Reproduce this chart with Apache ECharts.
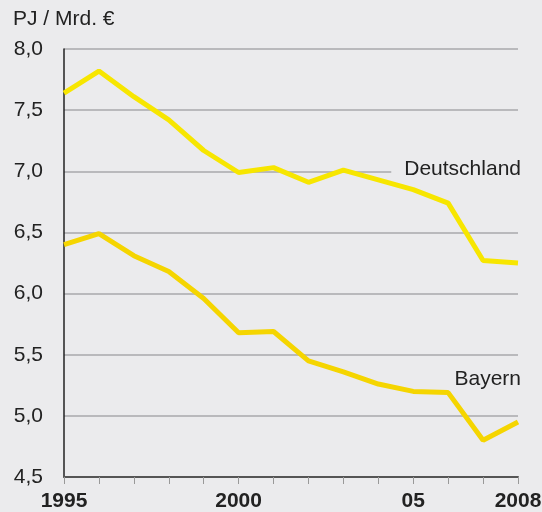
<!DOCTYPE html>
<html lang="de">
  <head>
    <meta charset="UTF-8" />
    <title>Energieintensität</title>
    <style>
      * {
        margin: 0;
        padding: 0;
      }
      body {
        background: #ebebed;
      }
    </style>
  </head>
  <body>
    <div id="main" style="width: 542px; height: 512px"></div>
    <script src="https://cdn.jsdelivr.net/npm/echarts@6/dist/echarts.min.js"></script>
    <script>
      // Jahre
      const years = ["1995", "1996", "1997", "1998", "1999", "2000", "2001",
        "2002", "2003", "2004", "2005", "2006", "2007", "2008"];
      // PJ je Mrd. Euro
      const deutschland = [7.64, 7.82, 7.61, 7.42, 7.17, 6.99, 7.03, 6.91, 7.01, 6.93, 6.85, 6.74, 6.27, 6.25];
      const bayern = [6.40, 6.49, 6.31, 6.18, 5.96, 5.68, 5.69, 5.45, 5.36, 5.26, 5.20, 5.19, 4.80, 4.95];
      // Beschriftung der x-Achse
      const xLabels = { "1995": "1995", "2000": "2000", "2005": "05", "2008": "2008" };

      const font = "Liberation Sans, Arial, sans-serif";
      var myChart = echarts.init(document.getElementById("main"));

      const option = {
        backgroundColor: "#ebebed",
        animation: false,
        title: {
          text: "PJ / Mrd. €",
          left: 8,
          top: 4,
          textStyle: { fontFamily: font, fontSize: 21, fontWeight: "normal", color: "#222" },
        },
        grid: { left: 64, right: 24, top: 49, bottom: 35, outerBoundsMode: "none", containLabel: false },
        xAxis: {
          type: "category",
          data: years,
          boundaryGap: false,
          axisLine: { lineStyle: { color: "#555", width: 2 } },
          axisTick: { show: true, interval: 0, inside: false, length: 7, lineStyle: { color: "#999" } },
          axisLabel: {
            interval: (i, v) => v in xLabels,
            formatter: (v) => xLabels[v],
            fontFamily: font,
            fontSize: 21,
            fontWeight: "bold",
            color: "#222",
            margin: 14,
          },
          splitLine: { show: false },
        },
        yAxis: {
          type: "value",
          min: 4.5,
          max: 8,
          interval: 0.5,
          axisLine: { show: true, lineStyle: { color: "#222", width: 1.5 } },
          axisTick: { show: false },
          axisLabel: {
            formatter: (v) => v.toFixed(1).replace(".", ","),
            fontFamily: font,
            fontSize: 21,
            color: "#222",
            margin: 21,
          },
          splitLine: { lineStyle: { color: "#a9a9ab", width: 1.5 } },
        },
        series: [
          {
            name: "Deutschland",
            type: "line",
            data: deutschland,
            symbol: "none",
            lineStyle: { color: "#f7e600", width: 5 },
            z: 3,
          },
          {
            name: "Bayern",
            type: "line",
            data: bayern,
            symbol: "none",
            lineStyle: { color: "#f5d500", width: 5 },
            z: 3,
          },
        ],
        graphic: [
          {
            type: "text",
            right: 21,
            top: 159,
            z: 10,
            style: {
              text: "Deutschland",
              font: "21px " + font,
              fill: "#222",
              backgroundColor: "#ebebed",
              padding: [0, 0, 0, 13],
            },
          },
          {
            type: "text",
            right: 21,
            top: 369,
            z: 10,
            style: { text: "Bayern", font: "21px " + font, fill: "#222" },
          },
        ],
      };

      myChart.setOption(option);
    </script>
  </body>
</html>
